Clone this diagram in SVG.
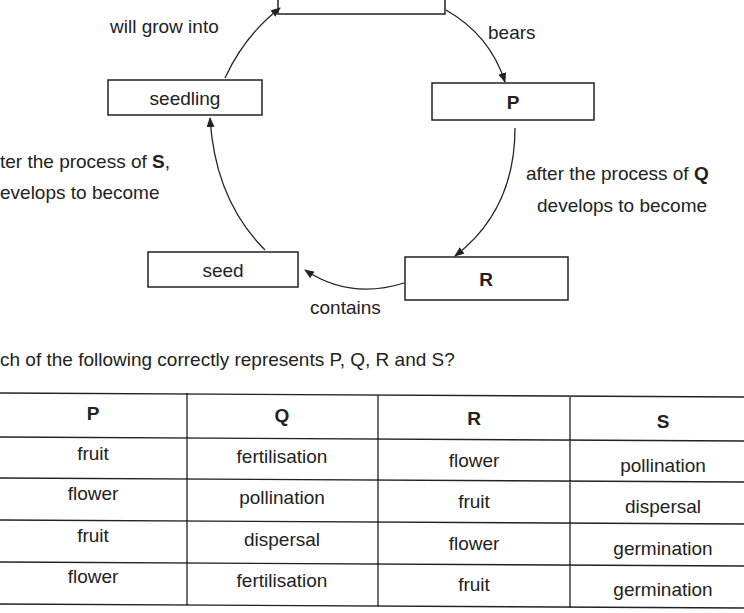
<svg xmlns="http://www.w3.org/2000/svg" width="744" height="613" viewBox="0 0 744 613">
<defs>
<marker id="ah" markerWidth="10" markerHeight="8" refX="9" refY="4" orient="auto" markerUnits="userSpaceOnUse">
<path d="M0,0 L10,4 L0,8 Z" fill="#222"/>
</marker>
<style>
text{font-family:"Liberation Sans",Arial,sans-serif;font-size:19px;fill:#222}
.b{font-weight:bold}
.box{fill:#fff;stroke:#222;stroke-width:1.5}
.c{fill:none;stroke:#222;stroke-width:1.3}
.t{stroke:#222;stroke-width:1.3;fill:none}
</style>
</defs>
<rect width="744" height="613" fill="#fff"/>
<g id="top"><rect class="box" x="278" y="-5" width="167" height="19"/></g>
<g id="seedling"><rect class="box" x="108" y="80" width="154" height="35"/><text x="185" y="105" text-anchor="middle">seedling</text></g>
<g id="P"><rect class="box" x="432" y="83" width="162" height="37"/><text x="513" y="109" text-anchor="middle" class="b">P</text></g>
<g id="seed"><rect class="box" x="148" y="252" width="150" height="35"/><text x="223" y="277" text-anchor="middle">seed</text></g>
<g id="R"><rect class="box" x="405" y="257" width="163" height="43"/><text x="486" y="286" text-anchor="middle" class="b">R</text></g>
<g id="connectors">
<path class="c" d="M225,78 Q245,35 280,8" marker-end="url(#ah)"/>
<path class="c" d="M446,10 Q490,35 505,82" marker-end="url(#ah)"/>
<path class="c" d="M515,128 Q515,210 455,256" marker-end="url(#ah)"/>
<path class="c" d="M404,283 Q350,300 305,270" marker-end="url(#ah)"/>
<path class="c" d="M265,250 Q215,200 210,118" marker-end="url(#ah)"/>
</g>
<text x="110" y="33">will grow into</text>
<text x="488" y="39">bears</text>
<text x="0" y="168">ter the process of <tspan class="b">S</tspan>,</text>
<text x="0" y="199">evelops to become</text>
<text x="526" y="180">after the process of <tspan class="b">Q</tspan></text>
<text x="537" y="212">develops to become</text>
<text x="310" y="314">contains</text>
<text x="0" y="366">ch of the following correctly represents P, Q, R and S?</text>
<g id="table">
<path class="t" d="M0,393 L744,397 M0,437 L744,441 M0,478 L744,482 M0,520 L744,524 M0,562 L744,566 M0,604 L744,608 M187,393 V605 M378,395 V606 M570,396 V607"/>
<text x="93" y="420" text-anchor="middle" class="b">P</text>
<text x="282" y="422" text-anchor="middle" class="b">Q</text>
<text x="474" y="425" text-anchor="middle" class="b">R</text>
<text x="663" y="428" text-anchor="middle" class="b">S</text>
<text x="93" y="460" text-anchor="middle">fruit</text>
<text x="282" y="463" text-anchor="middle">fertilisation</text>
<text x="474" y="467" text-anchor="middle">flower</text>
<text x="663" y="472" text-anchor="middle">pollination</text>
<text x="93" y="500" text-anchor="middle">flower</text>
<text x="282" y="504" text-anchor="middle">pollination</text>
<text x="474" y="508" text-anchor="middle">fruit</text>
<text x="663" y="513" text-anchor="middle">dispersal</text>
<text x="93" y="542" text-anchor="middle">fruit</text>
<text x="282" y="546" text-anchor="middle">dispersal</text>
<text x="474" y="550" text-anchor="middle">flower</text>
<text x="663" y="555" text-anchor="middle">germination</text>
<text x="93" y="583" text-anchor="middle">flower</text>
<text x="282" y="587" text-anchor="middle">fertilisation</text>
<text x="474" y="591" text-anchor="middle">fruit</text>
<text x="663" y="596" text-anchor="middle">germination</text>
</g>
</svg>
